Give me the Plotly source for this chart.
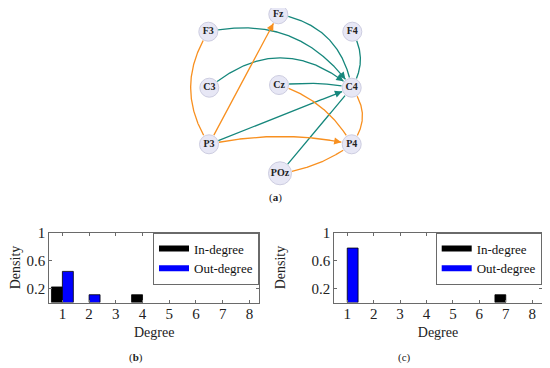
import numpy as np
import plotly.graph_objects as go

# ---------------- data ----------------
degrees = [1, 2, 3, 4, 5, 6, 7, 8]
in_degree_b = [2/9, None, None, 1/9, None, None, None, None]
out_degree_b = [4/9, 1/9, None, None, None, None, None, None]
in_degree_c = [None, None, None, None, None, None, 1/9, None]
out_degree_c = [7/9, None, None, None, None, None, None, None]
y_ticks = [0.2, 0.6, 1]

node_names = ["Fz", "F3", "F4", "C3", "Cz", "C4", "P3", "P4", "POz"]
node_x = [278.3, 208.3, 352.3, 209.3, 279.0, 351.7, 209.0, 351.7, 280.0]
node_y = [14.3, 31.7, 31.7, 87.7, 85.0, 87.7, 144.3, 144.3, 173.3]
node_r = [9.5, 9.5, 9.5, 9.5, 9.5, 9.5, 9.5, 9.5, 11.5]

edge_src = ["F3", "Fz", "F4", "C3", "Cz", "P3", "POz", "F3", "P3", "Cz", "C4", "P3", "POz"]
edge_dst = ["C4", "C4", "C4", "C4", "C4", "C4", "C4", "P3", "Fz", "P4", "P4", "P4", "P4"]
edge_kind = ["t", "t", "t", "t", "t", "t", "t", "o", "o", "o", "o", "o", "o"]
edge_bend = [0.33, 0.35, 0.3, 0.42, 0.08, 0.0, 0.0, -0.32, 0.0, 0.2, 0.38, 0.11, -0.13]

TEAL = "#16877c"
ORANGE = "#f89020"
BLUE = "#0000ff"
FONT = "Liberation Serif"

# page body has an 8px margin: figure is drawn at (8,8)
OFF = 8
W, H = 550 - OFF, 368 - OFF

def px(p):
    return (p - OFF) / W

def py(p):
    return 1 - (p - OFF) / H

fig = go.Figure()

# ---------------- network (a) ----------------
idx = {n: i for i, n in enumerate(node_names)}
annotations = []
for s, d, k, b in zip(edge_src, edge_dst, edge_kind, edge_bend):
    i, j = idx[s], idx[d]
    ax_, ay_ = node_x[i], node_y[i]
    bx_, by_ = node_x[j], node_y[j]
    dx, dy = bx_ - ax_, by_ - ay_
    cx, cy = (ax_ + bx_) / 2 + b * dy, (ay_ + by_) / 2 - b * dx
    t = np.linspace(0, 1, 400)
    xs = (1 - t) ** 2 * ax_ + 2 * (1 - t) * t * cx + t ** 2 * bx_
    ys = (1 - t) ** 2 * ay_ + 2 * (1 - t) * t * cy + t ** 2 * by_
    keep = (np.hypot(xs - ax_, ys - ay_) > node_r[i] + 0.5) & (np.hypot(xs - bx_, ys - by_) > node_r[j] + 0.8)
    xs, ys = xs[keep], ys[keep]
    col = TEAL if k == "t" else ORANGE
    fig.add_trace(go.Scatter(x=xs, y=ys, mode="lines", line=dict(color=col, width=1.3),
                             xaxis="x3", yaxis="y3", showlegend=False, hoverinfo="skip"))
    annotations.append(dict(x=xs[-1], y=ys[-1], ax=xs[-12], ay=ys[-12], xref="x3", yref="y3",
                            axref="x3", ayref="y3", text="", showarrow=True, arrowhead=2,
                            arrowsize=1.1, arrowwidth=1.3, arrowcolor=col, standoff=0, startstandoff=0))

fig.add_trace(go.Scatter(
    x=node_x, y=node_y, mode="markers+text", text=[f"<b>{n}</b>" for n in node_names],
    textposition="middle center", textfont=dict(family=FONT, size=10, color="#222"),
    marker=dict(size=[2 * r for r in node_r], color="#dedef2", line=dict(color="#b8b8d4", width=1)),
    xaxis="x3", yaxis="y3", showlegend=False, hoverinfo="skip"))

# ---------------- bar charts ----------------
panels = [("x", "y", "legend", in_degree_b, out_degree_b, "b"),
          ("x2", "y2", "legend2", in_degree_c, out_degree_c, "c")]
for xa, ya, lg, ind, outd, tag in panels:
    fig.add_trace(go.Bar(x=degrees, y=ind, name="In-degree", legendgroup="in" + tag, showlegend=False,
                         marker=dict(color="black", line=dict(color="black", width=0.8)),
                         xaxis=xa, yaxis=ya, offsetgroup="a"))
    fig.add_trace(go.Bar(x=degrees, y=outd, name="Out-degree", legendgroup="out" + tag, showlegend=False,
                         marker=dict(color=BLUE, line=dict(color="black", width=0.8)),
                         xaxis=xa, yaxis=ya, offsetgroup="b"))
    # legend swatches (wide bars like the original legend)
    fig.add_trace(go.Scatter(x=[None], y=[None], mode="lines", name="In-degree", legendgroup="in" + tag,
                             line=dict(color="black", width=6), xaxis=xa, yaxis=ya, legend=lg))
    fig.add_trace(go.Scatter(x=[None], y=[None], mode="lines", name="Out-degree", legendgroup="out" + tag,
                             line=dict(color=BLUE, width=6), xaxis=xa, yaxis=ya, legend=lg))

AX = "#6a6a6a"
ydom = [py(302.5), py(232.5)]

def xax(dom):
    return dict(domain=dom, range=[0.51, 8.36], tickvals=degrees, ticks="inside", ticklen=3, tickcolor=AX,
                showline=True, linecolor=AX, linewidth=1, mirror="ticks", showgrid=False, zeroline=False,
                tickfont=dict(family=FONT, size=15, color="#222"), fixedrange=True, ticklabelstandoff=-3,
                title=dict(text="Degree", font=dict(family=FONT, size=14, color="#222"), standoff=6),
                automargin=False)

def yax(anchor):
    return dict(domain=ydom, range=[0, 1], tickvals=y_ticks, ticktext=["0.2", "0.6", "1"], ticks="inside",
                ticklen=3, tickcolor=AX, showline=True, linecolor=AX, linewidth=1, mirror="ticks",
                showgrid=False, zeroline=False, anchor=anchor, fixedrange=True,
                tickfont=dict(family=FONT, size=15, color="#222"),
                title=dict(text="Density", font=dict(family=FONT, size=14, color="#222"), standoff=22),
                automargin=False)

def leg(x, y):
    return dict(x=x, y=y, xanchor="right", yanchor="top", bgcolor="white", bordercolor=AX, borderwidth=1,
                font=dict(family=FONT, size=13, color="#111"), tracegroupgap=0, itemwidth=30,
                traceorder="normal")

annotations += [
    dict(text="(<b>a</b>)", x=px(275), y=py(197), xref="paper", yref="paper", showarrow=False,
         yanchor="middle", font=dict(family=FONT, size=11, color="#222")),
    dict(text="(<b>b</b>)", x=px(127), y=py(357.5), xref="paper", yref="paper", showarrow=False,
         yanchor="middle", font=dict(family=FONT, size=11, color="#222")),
    dict(text="(c)", x=px(413), y=py(357.5), xref="paper", yref="paper", showarrow=False,
         yanchor="middle", font=dict(family=FONT, size=11, color="#222")),
]

fig.update_layout(
    width=W, height=H, margin=dict(l=0, r=0, t=0, b=0),
    paper_bgcolor="white", plot_bgcolor="rgba(0,0,0,0)",
    barmode="group", bargap=0.18, bargroupgap=0,
    xaxis=xax([px(49.3), px(259)]), yaxis=yax("x"),
    xaxis2=dict(xax([px(334.3), px(541.7)]), anchor="y2"), yaxis2=yax("x2"),
    xaxis3=dict(domain=[px(170), px(390)], range=[170, 390], visible=False, anchor="y3", fixedrange=True),
    yaxis3=dict(domain=[py(205), py(OFF)], range=[205, OFF], visible=False, anchor="x3", fixedrange=True),
    legend=leg(px(259), py(232.5)),
    legend2=leg(px(541.7), py(232.5)),
    annotations=annotations,
    showlegend=True,
)
fig.write_html("out.html")
